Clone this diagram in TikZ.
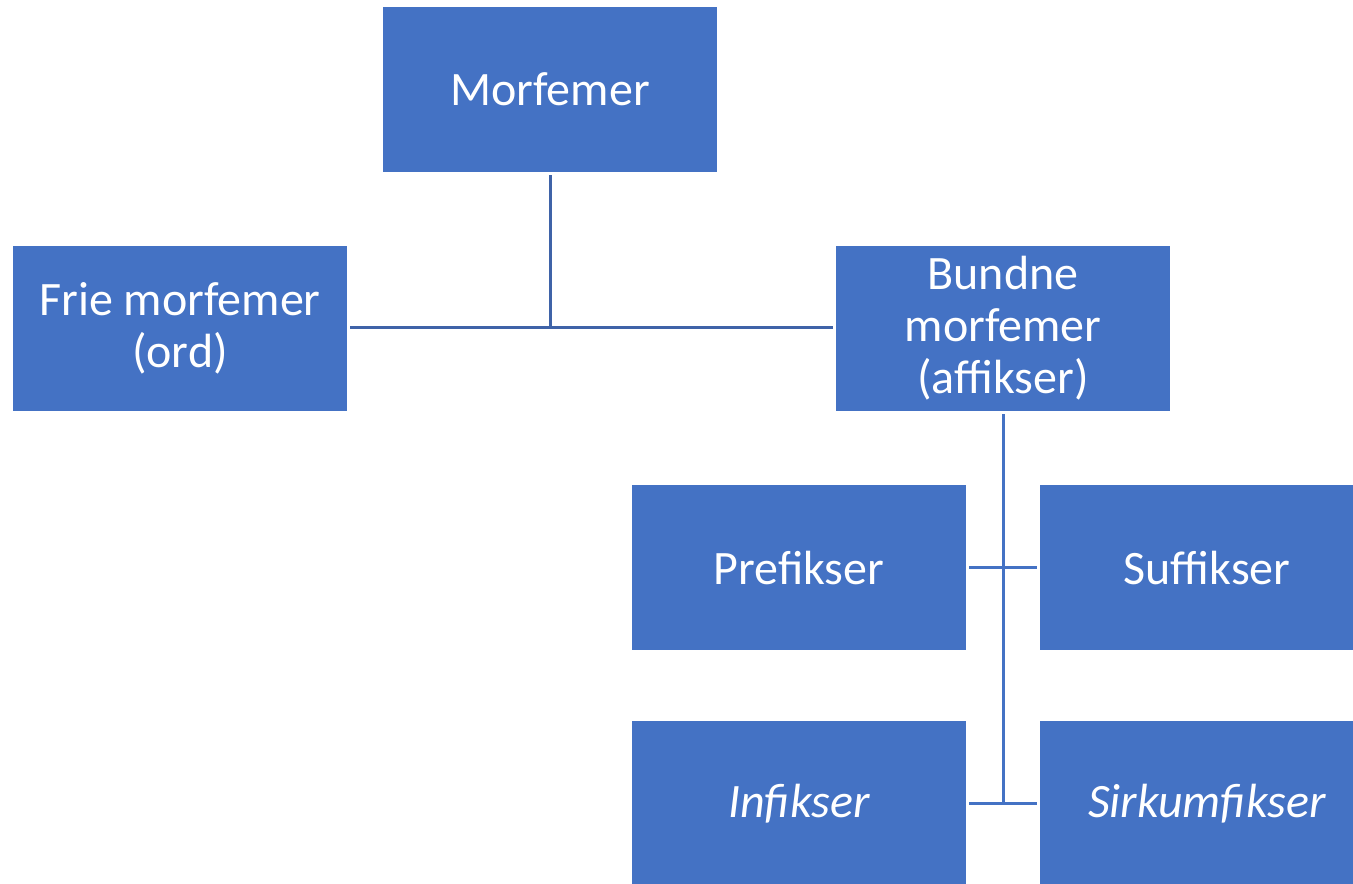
\documentclass[tikz,border=0pt]{standalone}
\usepackage{fontspec}
\setmainfont{Carlito}
\definecolor{boxblue}{HTML}{4472C4}
\definecolor{lineblue}{HTML}{3F63A8}
\begin{document}
\begin{tikzpicture}[x=0.75pt,y=-0.75pt,
  box/.style={fill=boxblue, draw=none, minimum width=250.5pt, minimum height=123.75pt,
    inner sep=0pt, outer sep=2.25pt, text=white, align=center,
    font=\fontsize{36}{39}\selectfont},
  conn/.style={line width=2.25pt, draw=boxblue},
  topconn/.style={line width=2.25pt, draw=lineblue}]
\useasboundingbox (0,0) rectangle (1353,883);
\clip (0,0) rectangle (1353,883);
\node[box] (morf) at (550,89.5) {Morfemer};
\node[box] (frie) at (180,328.5) {Frie morfemer\\(ord)};
\node[box] (bund) at (1003,328.5) {Bundne\\morfemer\\(affikser)};
\node[box] (pre) at (799,567.5) {Prefikser};
\node[box] (suf) at (1207,567.5) {Suffikser};
\node[box] (inf) at (799,803.5) {\itshape Infikser};
\node[box] (sir) at (1207,803.5) {\itshape Sirkumfikser};
\coordinate (j1) at (550,327);
\coordinate (j2) at (1003,803.5);
\draw[topconn] (morf.south) -- (j1);
\draw[topconn] (frie.east |- j1) -- (bund.west |- j1);
\draw[conn] (bund.south) -- (j2);
\draw[conn] (pre.east) -- (suf.west);
\draw[conn] (inf.east) -- (sir.west);
\end{tikzpicture}
\end{document}
